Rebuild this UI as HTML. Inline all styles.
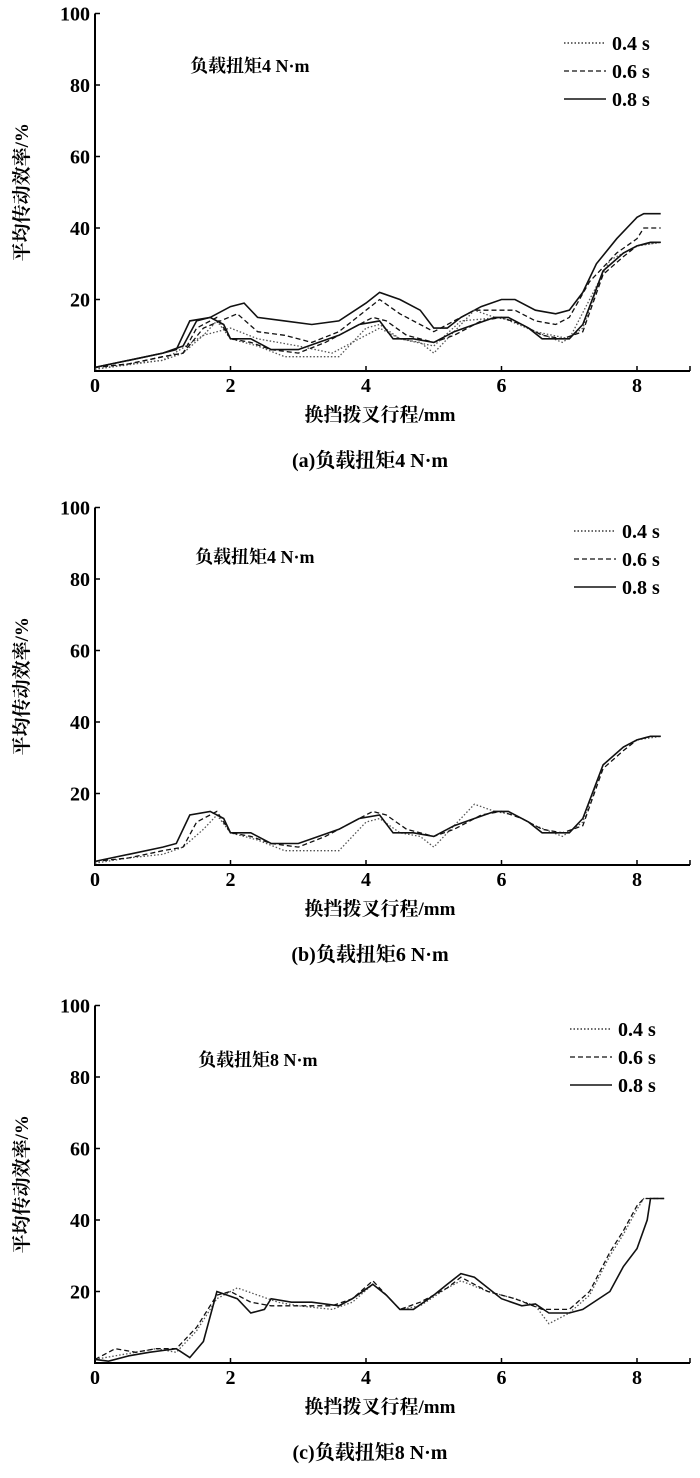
<!DOCTYPE html>
<html><head><meta charset="utf-8">
<style>
body{margin:0;background:#fff;}
svg{display:block;font-family:"Liberation Serif","Noto Serif CJK SC",serif;font-weight:bold;}
</style></head>
<body>
<svg id="c" width="700" height="1478" viewBox="0 0 700 1478"></svg>
<script>
// ---- data ----
const xTicks=[0,2,4,6,8];
const yTicks=[20,40,60,80,100];
// panel a (upper set)
const aSolidUX=[0,0.5,1,1.3,1.5,1.7,2,2.2,2.4,2.8,3.2,3.6,4,4.2,4.5,4.8,5,5.2,5.4,5.7,6,6.2,6.5,6.8,7,7.2,7.4,7.7,8,8.1,8.35];
const aSolidUY=[1,3,5,7,14,15,18,19,15,14,13,14,19,22,20,17,12,12,15,18,20,20,17,16,17,22,30,37,43,44,44];
const aDashUX=[0,0.5,1,1.3,1.6,2.1,2.4,2.8,3.2,3.6,4.2,4.5,4.8,5,5.3,5.6,6,6.2,6.5,6.8,7,7.3,7.7,8,8.1,8.35];
const aDashUY=[1,2,4,5,12,16,11,10,8,11,20,16,13,11,14,17,17,17,14,13,15,25,33,37,40,40];
const aDotUX=[0,1,1.6,2,2.4,3,3.5,4.2,4.5,5,5.4,6,6.5,7,7.3,7.6,8,8.35];
const aDotUY=[0.5,3,10,12,9,7,5,12,9,7,14,15,11,9,20,31,35,36];
// panel b (and lower set of a)
const bSolidX=[0,0.5,1,1.2,1.4,1.7,1.9,2,2.3,2.6,2.8,3,3.3,3.6,3.9,4.2,4.4,4.7,5,5.3,5.6,5.9,6.1,6.4,6.6,6.8,7,7.2,7.5,7.8,8,8.2,8.35];
const bSolidY=[1,3,5,6,14,15,13,9,9,6,6,6,8,10,13,14,9,9,8,11,13,15,15,12,9,9,9,13,28,33,35,36,36];
const bDashX=[0,0.5,1,1.3,1.5,1.8,2,2.3,2.6,3,3.4,3.8,4.1,4.3,4.6,5,5.3,5.7,6,6.3,6.6,6.9,7.2,7.5,7.8,8,8.2,8.35];
const bDashY=[1,2,4,5,12,15,9,8,6,5,8,12,15,14,10,8,10,14,15,13,10,9,11,27,32,35,36,36];
const bDotX=[0,0.5,1,1.3,1.6,1.8,2,2.4,2.8,3.2,3.6,4,4.2,4.5,4.8,5,5.3,5.6,5.9,6.2,6.5,6.9,7.2,7.5,7.8,8,8.35];
const bDotY=[0.5,2,3,5,10,14,9,7,4,4,4,12,13,9,8,5,11,17,15,14,11,8,12,28,33,35,36];
// panel c
const cSolidX=[0,0.2,0.5,0.8,1,1.2,1.4,1.6,1.8,1.95,2.1,2.3,2.5,2.6,2.9,3.2,3.6,3.8,4.1,4.3,4.5,4.7,5,5.2,5.4,5.6,6,6.3,6.5,6.7,7,7.2,7.6,7.8,8,8.15,8.2,8.4];
const cSolidY=[1,0.5,2,3,3.5,4,1.5,6,20,19,18,14,15,18,17,17,16,18,22,19,15,15,19,22,25,24,18,16,16.5,14,14,15,20,27,32,40,46,46];
const cDashX=[0,0.3,0.6,0.9,1.2,1.5,1.8,2,2.3,2.6,3,3.5,3.8,4.1,4.3,4.5,4.8,5.2,5.4,5.8,6.2,6.6,7,7.3,7.6,7.8,8,8.1,8.4];
const cDashY=[1,4,3,4,4,10,19,20,17,16,16,16,18,23,19,15,17,21,24,20,18,15,15,20,31,37,44,46,46];
const cDotX=[0,0.3,0.6,0.9,1.2,1.5,1.8,2.1,2.4,2.7,3,3.5,3.8,4.1,4.3,4.5,4.8,5.2,5.4,5.8,6.2,6.5,6.7,7,7.3,7.6,7.8,8,8.1,8.4];
const cDotY=[1,2,3,4,3,9,18,21,19,17,16,15,17,22,19,15,16,21,23,20,18,16,11,14,19,30,36,43,46,46];

const NS="http://www.w3.org/2000/svg";
const svg=document.getElementById('c');
function el(t,a,p){const e=document.createElementNS(NS,t);for(const k in a)e.setAttribute(k,a[k]);(p||svg).appendChild(e);return e;}
const X0=95,XS=135.5/2;
function xs(v){return X0+v*XS;}
const dashes={solid:'',dash:'5,3',dot:'1.5,2'};
function panel(name,y0,series,legendY,legTextX,annText,annX,annY,caption){
  const g=el('g',{});
  
  
  const ys=v=>y0-v*71.5/20;
  const ax=el('path',{d:`M${X0} ${ys(100)}V${y0}H690`,stroke:'#000','stroke-width':2,fill:'none'},g);
  
  
  for(const t of yTicks){
    el('line',{x1:X0,x2:X0+5,y1:ys(t),y2:ys(t),stroke:'#000','stroke-width':1.5},g);
    const tx=el('text',{x:X0-5,y:ys(t)+7,'text-anchor':'end','font-size':20},g);tx.textContent=t;
    
    
  }
  for(const t of xTicks){
    el('line',{x1:xs(t),x2:xs(t),y1:y0,y2:y0-5,stroke:'#000','stroke-width':1.5},g);
    const tx=el('text',{x:xs(t),y:y0+21,'text-anchor':'middle','font-size':20},g);tx.textContent=t;
    
    
  }
  el('line',{x1:690,x2:690,y1:y0,y2:y0-5,stroke:'#000','stroke-width':1.5},g);
  for(const s of series){
    const d=s.x.map((v,i)=>(i?'L':'M')+xs(v).toFixed(1)+' '+ys(s.y[i]).toFixed(1)).join('');
    const p=el('path',{d,fill:'none',stroke:s.st=='dot'?'#555':'#111','stroke-width':s.st=='solid'?1.6:1.3,'stroke-dasharray':dashes[s.st]},g);
    
    
  }
  const labs=[['0.4 s','dot'],['0.6 s','dash'],['0.8 s','solid']];
  labs.forEach((l,i)=>{
    const yy=legendY+i*28;
    el('line',{x1:legTextX-48,x2:legTextX-6,y1:yy,y2:yy,stroke:'#111','stroke-width':l[1]=='solid'?1.6:1.2,'stroke-dasharray':dashes[l[1]]},g);
    const t=el('text',{x:legTextX,y:yy+7,'font-size':20},g);t.textContent=l[0];
    
    
  });
  const an=el('text',{x:annX,y:annY,'font-size':18},g);an.textContent=annText;
  
  
  const yl=el('text',{x:0,y:0,'font-size':19,'text-anchor':'middle',transform:`translate(28 ${ys(50)}) rotate(-90)`},g);yl.textContent='平均传动效率/%';
  
  
  const xl=el('text',{x:380,y:y0+50,'font-size':19,'text-anchor':'middle'},g);xl.textContent='换挡拨叉行程/mm';
  
  
  const cp=el('text',{x:370,y:y0+96,'font-size':20,'text-anchor':'middle'},g);cp.textContent=caption;
  
  
}
panel('panel-a',371,[
 {x:aDotUX,y:aDotUY,st:'dot',lab:'0.4 s'},{x:aDashUX,y:aDashUY,st:'dash',lab:'0.6 s'},{x:aSolidUX,y:aSolidUY,st:'solid',lab:'0.8 s'},
 {x:bDotX,y:bDotY,st:'dot',lab:'0.4 s'},{x:bDashX,y:bDashY,st:'dash',lab:'0.6 s'},{x:bSolidX,y:bSolidY,st:'solid',lab:'0.8 s'}],
 43,612,'负载扭矩4 N·m',190,72,'(a)负载扭矩4 N·m');
panel('panel-b',865,[
 {x:bDotX,y:bDotY,st:'dot',lab:'0.4 s'},{x:bDashX,y:bDashY,st:'dash',lab:'0.6 s'},{x:bSolidX,y:bSolidY,st:'solid',lab:'0.8 s'}],
 531,622,'负载扭矩4 N·m',195,563,'(b)负载扭矩6 N·m');
panel('panel-c',1363,[
 {x:cDotX,y:cDotY,st:'dot',lab:'0.4 s'},{x:cDashX,y:cDashY,st:'dash',lab:'0.6 s'},{x:cSolidX,y:cSolidY,st:'solid',lab:'0.8 s'}],
 1029,618,'负载扭矩8 N·m',198,1066,'(c)负载扭矩8 N·m');
</script>
</body></html>
